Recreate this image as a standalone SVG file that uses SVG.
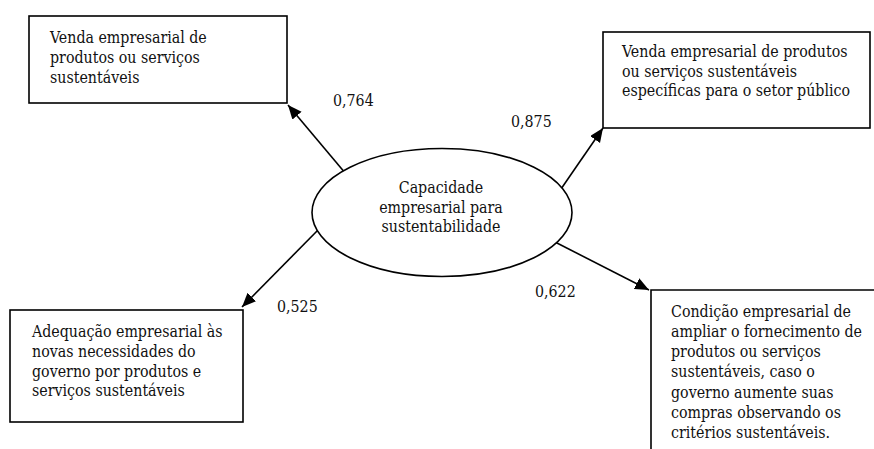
<svg xmlns="http://www.w3.org/2000/svg" width="874" height="449" viewBox="0 0 874 449">
<style>
.box{fill:#fff;stroke:#000;stroke-width:1.6}
text{font-family:'DejaVu Serif Condensed','DejaVu Serif',serif;font-size:15.8px;fill:#111}
.c{stroke:#000;stroke-width:1.6;fill:none}
</style>
<defs>
<marker id="ah" markerUnits="userSpaceOnUse" markerWidth="16" markerHeight="14" refX="14" refY="6" orient="auto">
<path d="M0,0 L14,6 L0,12 Z" fill="#000"/>
</marker>
</defs>
<rect width="874" height="449" fill="#fff"/>
<g id="connectors">
<line class="c" x1="346" y1="174" x2="288" y2="105" marker-end="url(#ah)"/>
<line class="c" x1="561" y1="189" x2="603" y2="128" marker-end="url(#ah)"/>
<line class="c" x1="319" y1="229" x2="242" y2="307" marker-end="url(#ah)"/>
<line class="c" x1="555" y1="242" x2="649" y2="290" marker-end="url(#ah)"/>
<text x="333" y="106">0,764</text>
<text x="511" y="127">0,875</text>
<text x="277" y="312">0,525</text>
<text x="535" y="297">0,622</text>
</g>
<g id="center">
<ellipse class="box" cx="442" cy="212.5" rx="130" ry="64"/>
<text text-anchor="middle" x="441" y="193">Capacidade</text>
<text text-anchor="middle" x="441" y="213">empresarial para</text>
<text text-anchor="middle" x="441" y="232">sustentabilidade</text>
</g>
<g id="n1">
<rect class="box" x="29" y="16" width="258" height="87"/>
<text x="50" y="43">Venda empresarial de</text>
<text x="50" y="63">produtos ou serviços</text>
<text x="50" y="83">sustentáveis</text>
</g>
<g id="n2">
<rect class="box" x="603" y="32" width="267" height="96"/>
<text x="622" y="57">Venda empresarial de produtos</text>
<text x="622" y="77">ou serviços sustentáveis</text>
<text x="622" y="96">específicas para o setor público</text>
</g>
<g id="n3">
<rect class="box" x="10" y="310" width="233" height="112"/>
<text x="32" y="337">Adequação empresarial às</text>
<text x="32" y="357">novas necessidades do</text>
<text x="32" y="377">governo por produtos e</text>
<text x="32" y="396">serviços sustentáveis</text>
</g>
<g id="n4">
<path class="box" d="M651,449 L651,290 L876,290" fill="none"/>
<text x="671" y="317">Condição empresarial de</text>
<text x="671" y="337">ampliar o fornecimento de</text>
<text x="671" y="357">produtos ou serviços</text>
<text x="671" y="377">sustentáveis, caso o</text>
<text x="671" y="398">governo aumente suas</text>
<text x="671" y="418">compras observando os</text>
<text x="671" y="438">critérios sustentáveis.</text>
</g>
</svg>
